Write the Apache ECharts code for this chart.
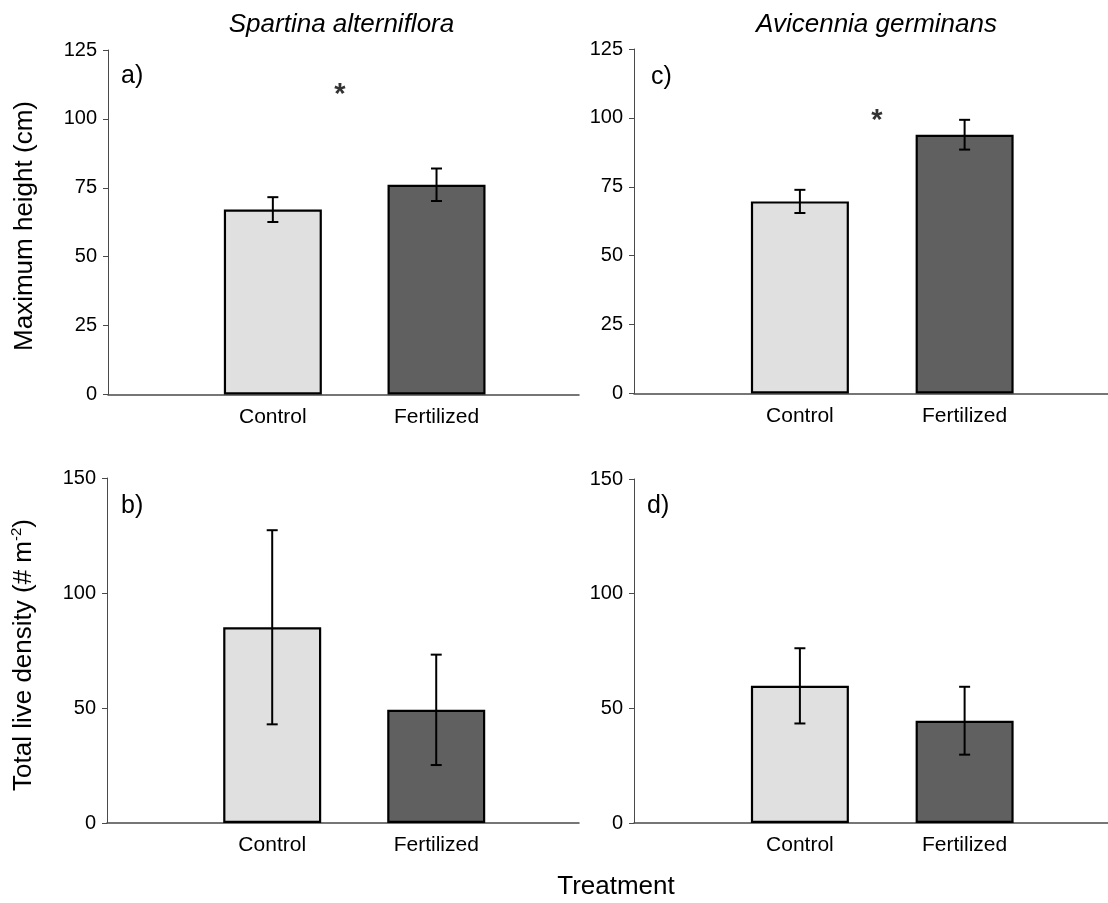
<!DOCTYPE html>
<html>
<head>
<meta charset="utf-8">
<style>
  html, body { margin: 0; padding: 0; background: #fff; }
  #chart { width: 1108px; height: 903px; }
</style>
<script src="https://cdn.jsdelivr.net/npm/echarts@6/dist/echarts.min.js"></script>
</head>
<body>
<div id="chart"></div>
<script>
// ---- data ----
const categories = ['Control', 'Fertilized'];
const heightSpartina = [67.1, 76.1];
const heightSpartinaErr = [4.5, 5.9];
const densitySpartina = [85.1, 49.2];
const densitySpartinaErr = [42.2, 24.0];
const heightAvicennia = [69.7, 93.9];
const heightAvicenniaErr = [4.2, 5.4];
const densityAvicennia = [59.8, 44.6];
const densityAvicenniaErr = [16.4, 14.8];
const heightTicks = [0, 25, 50, 75, 100, 125];
const densityTicks = [0, 50, 100, 150];
const speciesNames = ['Spartina alterniflora', 'Avicennia germinans'];
const panelLetters = ['a)', 'b)', 'c)', 'd)'];

// ---- layout / style ----
const FONT = '"Liberation Sans", Arial, sans-serif';
const barColors = ['#e0e0e0', '#606060'];
const slotPos = [7, 13.95];          // category slot positions on a 0..20 x scale
const grids = [
  { left: 108, top: 50, width: 471, height: 344.5 },   // a
  { left: 107, top: 478, width: 472, height: 345 },    // b
  { left: 634, top: 49, width: 474, height: 344.5 },   // c
  { left: 634, top: 479, width: 474, height: 344 }     // d
];
const panels = [
  { vals: heightSpartina, err: heightSpartinaErr, ticks: heightTicks, star: [9.85, 108.8] },
  { vals: densitySpartina, err: densitySpartinaErr, ticks: densityTicks, star: null },
  { vals: heightAvicennia, err: heightAvicenniaErr, ticks: heightTicks, star: [10.25, 98.8] },
  { vals: densityAvicennia, err: densityAvicenniaErr, ticks: densityTicks, star: null }
];

const xAxes = [], yAxes = [], series = [];
panels.forEach((p, k) => {
  xAxes.push({
    type: 'value', gridIndex: k, min: 0, max: 20, interval: 7,
    axisLine: { show: true, onZero: false, lineStyle: { color: '#4a4a4a', width: 1.5 } },
    axisTick: { show: false },
    splitLine: { show: false },
    axisLabel: {
      customValues: slotPos,
      formatter: v => { const i = slotPos.indexOf(v); return i >= 0 ? categories[i] : ''; },
      fontSize: 21, color: '#000', fontFamily: FONT, margin: 12
    }
  });
  const tk = p.ticks;
  yAxes.push({
    type: 'value', gridIndex: k, min: tk[0], max: tk[tk.length - 1], interval: tk[1] - tk[0],
    axisLine: { show: true, lineStyle: { color: '#4a4a4a', width: 1 } },
    axisTick: { show: true, length: 5, lineStyle: { color: '#4a4a4a', width: 1 } },
    splitLine: { show: false },
    axisLabel: { fontSize: 20, color: '#000', fontFamily: FONT, margin: 11 }
  });
  series.push({
    type: 'bar', xAxisIndex: k, yAxisIndex: k, barWidth: 98,
    data: categories.map((c, i) => ({
      value: [slotPos[i], p.vals[i]],
      itemStyle: { color: barColors[i], borderColor: '#000', borderWidth: 2.2 }
    })),
    silent: true, animation: false
  });
  series.push({
    type: 'custom', xAxisIndex: k, yAxisIndex: k, z: 5,
    data: categories.map((c, i) => [slotPos[i], p.vals[i] - p.err[i], p.vals[i] + p.err[i]]),
    encode: { x: 0, y: [1, 2] },
    renderItem: (params, api) => {
      const x = api.value(0);
      const a = api.coord([x, api.value(2)]);
      const b = api.coord([x, api.value(1)]);
      const hw = 5.5;
      const st = { stroke: '#000', lineWidth: 2 };
      return {
        type: 'group',
        children: [
          { type: 'line', shape: { x1: a[0], y1: a[1], x2: b[0], y2: b[1] }, style: st },
          { type: 'line', shape: { x1: a[0] - hw, y1: a[1], x2: a[0] + hw, y2: a[1] }, style: st },
          { type: 'line', shape: { x1: b[0] - hw, y1: b[1], x2: b[0] + hw, y2: b[1] }, style: st }
        ]
      };
    },
    silent: true, animation: false
  });
  if (p.star) {
    series.push({
      type: 'scatter', xAxisIndex: k, yAxisIndex: k, symbolSize: 0, z: 6,
      data: [p.star],
      label: { show: true, position: 'inside', formatter: '*', fontSize: 29, fontWeight: 'bold', color: '#000', fontFamily: FONT },
      silent: true, animation: false
    });
  }
});

const letterPos = [[121, 76], [121, 506], [651, 77], [647, 506]];
const graphic = [
  { type: 'text', x: 341.5, y: 25, style: { text: speciesNames[0], fontSize: 26, fontStyle: 'italic', fontFamily: FONT, fill: '#000', align: 'center', verticalAlign: 'middle' } },
  { type: 'text', x: 876.5, y: 25, style: { text: speciesNames[1], fontSize: 26, fontStyle: 'italic', fontFamily: FONT, fill: '#000', align: 'center', verticalAlign: 'middle' } },
  { type: 'text', x: 25, y: 226, rotation: Math.PI / 2, style: { text: 'Maximum height (cm)', fontSize: 26, fontFamily: FONT, fill: '#000', align: 'center', verticalAlign: 'middle' } },
  { type: 'text', x: 24, y: 655, rotation: Math.PI / 2, style: {
      text: '{n|Total live density (# m}{s|-2}{n|)}', fontFamily: FONT, fill: '#000', align: 'center', verticalAlign: 'middle',
      rich: { n: { fontSize: 26, lineHeight: 30, fontFamily: FONT }, s: { fontSize: 15, lineHeight: 30, verticalAlign: 'top', fontFamily: FONT } }
  } },
  { type: 'text', x: 616, y: 887, style: { text: 'Treatment', fontSize: 26, fontFamily: FONT, fill: '#000', align: 'center', verticalAlign: 'middle' } }
];
panelLetters.forEach((t, i) => {
  graphic.push({ type: 'text', x: letterPos[i][0], y: letterPos[i][1], style: { text: t, fontSize: 25, fontFamily: FONT, fill: '#000', align: 'left', verticalAlign: 'middle' } });
});

const chart = echarts.init(document.getElementById('chart'), null, { renderer: 'canvas' });
chart.setOption({
  backgroundColor: '#fff',
  animation: false,
  grid: grids.map(g => Object.assign({ containLabel: false }, g)),
  xAxis: xAxes,
  yAxis: yAxes,
  series: series,
  graphic: graphic
});
</script>
</body>
</html>
